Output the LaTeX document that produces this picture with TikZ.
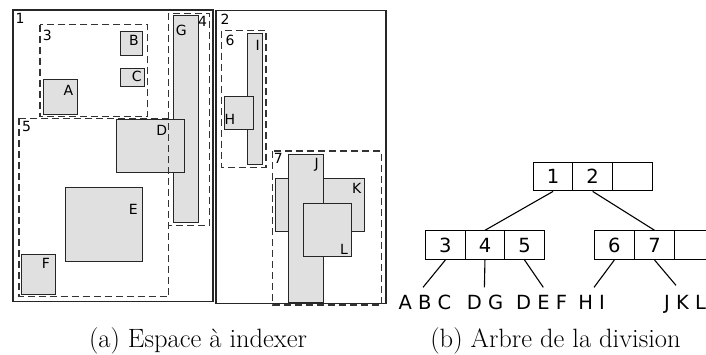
\documentclass[tikz,border=0pt]{standalone}
\usepackage{fontspec}
\newfontfamily\dv{DejaVu Sans}
\begin{document}
\begin{tikzpicture}[x=1pt,y=-1pt,
 obj/.style={draw=black!85, fill=black!12, line width=1pt},
 region/.style={draw=black!85, line width=1.2pt},
 part/.style={draw=black!80, line width=1.1pt, dash pattern=on 7pt off 4pt},
 lab/.style={font=\dv\fontsize{14}{16}\selectfont, inner sep=0},
 cell/.style={draw, line width=1.1pt, minimum width=39.6pt, minimum height=28.6pt, inner sep=0, anchor=north west, font=\dv\fontsize{19.5}{22}\selectfont},
 leaf/.style={font=\dv\fontsize{19.5}{22}\selectfont, inner sep=0, text height=14.3pt, text depth=0pt},
 edge/.style={line width=1.1pt},
 captext/.style={font=\fontsize{26.5}{30}\selectfont, inner sep=0, anchor=base}]
\clip (0,0) rectangle (706,354);
\fill[white] (0,0) rectangle (706,354);
% regions
\draw[region] (13,10) rectangle (213,301.5);
\draw[region] (216,10.7) rectangle (386,303.3);
% objects
\draw[obj] (43.3,79.7) rectangle (77.3,114);
\draw[obj] (120.7,31.3) rectangle (142.7,55);
\draw[obj] (120.7,68.3) rectangle (144.3,86);
\draw[obj] (173.3,15) rectangle (198,222.3);
\draw[obj] (116.3,119.3) rectangle (184,172.3);
\draw[obj] (65.3,187) rectangle (142,261);
\draw[obj] (21.3,254) rectangle (55.3,294.3);
\draw[obj] (247,33.7) rectangle (262.7,164.7);
\draw[obj] (224,96) rectangle (253.3,129);
\draw[obj] (275,178.7) rectangle (364.3,231.3);
\draw[obj] (288.7,154) rectangle (323.3,302);
\draw[obj] (303,203.3) rectangle (351,256);
% partitions
\draw[part] (40,24.7) rectangle (147.7,116.7);
\draw[part] (168.7,13.3) rectangle (209.3,225.7);
\draw[part] (19,118.3) rectangle (168.7,296.7);
\draw[part] (221.7,30.7) rectangle (266,167.3);
\draw[part] (272.7,151) rectangle (381.3,305);
% labels
\node[lab] (t1) at (20,18) {1};
\node[lab] (t3) at (47.3,35) {3};
\node[lab] (tB) at (134,40) {B};
\node[lab] (tC) at (136.7,76) {C};
\node[lab] (tA) at (68.3,90) {A};
\node[lab] (tG) at (181.3,30) {G};
\node[lab] (t4) at (202.7,21.7) {4};
\node[lab] (t5) at (26.7,126.7) {5};
\node[lab] (tD) at (161.7,130) {D};
\node[lab] (tE) at (133.3,209) {E};
\node[lab] (tF) at (46,263.3) {F};
\node[lab] (t2) at (225,19.3) {2};
\node[lab] (t6) at (230,40.7) {6};
\node[lab] (tI) at (257.7,45) {I};
\node[lab] (tH) at (230,119.3) {H};
\node[lab] (t7) at (278.3,158.3) {7};
\node[lab] (tJ) at (316.7,165) {J};
\node[lab] (tK) at (356.7,188.3) {K};
\node[lab] (tL) at (344,249.3) {L};
% tree
\node[cell] (r1) at (532.7,161.7) {1};
\node[cell] (r2) at (572.3,161.7) {2};
\node[cell] (r3) at (611.9,161.7) {};
\node[cell] (l3) at (425,230.3) {3};
\node[cell] (l4) at (464.6,230.3) {4};
\node[cell] (l5) at (504.2,230.3) {5};
\node[cell] (m6) at (594,230.3) {6};
\node[cell] (m7) at (634.2,230.3) {7};
\node[cell] (m8) at (673.8,230.3) {};
\node[leaf] (abc) at (425,302.7) {A B C};
\node[leaf] (dg) at (485,302.7) {D G};
\node[leaf] (def) at (541.7,302.7) {D E F};
\node[leaf] (hi) at (591.7,302.7) {H I};
\node[leaf] (jkl) at (685,302.7) {J K L};
\draw[edge] (r1.south) -- (l4.north);
\draw[edge] (r2.south) -- (m7.north);
\draw[edge] (l3.south) -- ([xshift=-2pt,yshift=8pt]abc.north);
\draw[edge] (l4.south) -- ([xshift=-0.6pt,yshift=8pt]dg.north);
\draw[edge] (l5.south) -- ([xshift=1.6pt,yshift=8pt]def.north);
\draw[edge] (m6.south) -- ([xshift=2.3pt,yshift=8pt]hi.north);
\draw[edge] (m7.south) -- ([xshift=-9pt,yshift=10pt]jkl.north);
% captions
\node[captext] (capa) at (198,347) {(a) Espace à indexer};
\node[captext] (capb) at (555.5,347) {(b) Arbre de la division};
\end{tikzpicture}
\end{document}
